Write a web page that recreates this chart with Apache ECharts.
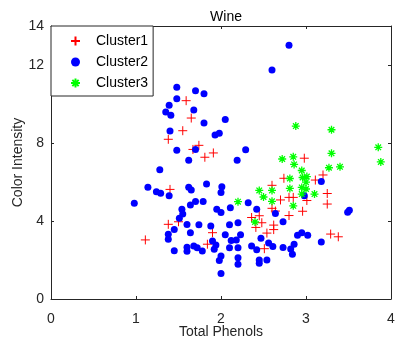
<!DOCTYPE html>
<html>
<head>
<meta charset="utf-8">
<script src="https://cdn.jsdelivr.net/npm/echarts@6/dist/echarts.min.js"></script>
<style>
  html, body { margin: 0; padding: 0; background: #fff; }
  #chart { width: 396px; height: 345px; }
</style>
</head>
<body>
<div id="chart"></div>
<script>
// Wine: total phenols (x) vs colour intensity (y), grouped by cluster
const chartTitle = 'Wine';
const xName = 'Total Phenols';
const yName = 'Color Intensity';
const clusterNames = ['Cluster1', 'Cluster2', 'Cluster3'];

const cluster1Points = [
  [1.59, 10.17], [1.65, 9.28], [1.55, 8.63], [1.38, 8.19], [1.74, 7.88],
  [1.67, 7.67], [1.81, 7.27], [1.91, 7.49], [2.74, 6.19], [1.40, 5.62],
  [1.38, 3.83], [1.50, 3.96], [1.11, 3.03], [1.90, 3.40], [1.84, 2.81],
  [2.60, 5.83], [2.70, 5.08], [2.60, 4.65], [2.64, 4.51], [2.36, 4.18],
  [2.45, 4.27], [2.48, 3.91], [2.41, 3.67], [2.62, 3.79], [2.62, 3.56],
  [2.54, 3.38], [2.51, 2.58], [2.98, 7.22], [3.20, 6.36], [3.11, 6.10],
  [3.25, 5.41], [3.25, 4.87], [2.80, 5.21], [2.85, 5.21], [3.01, 5.05],
  [2.96, 4.50], [2.80, 4.28], [3.29, 3.33], [3.38, 3.19]
];

const cluster2Points = [
  [2.80, 13.01], [2.60, 11.74], [1.48, 10.86], [1.70, 10.68], [1.80, 10.53],
  [1.48, 10.27], [1.39, 9.93], [1.68, 9.69], [1.35, 9.59], [1.41, 9.42],
  [2.05, 9.21], [1.80, 9.03], [1.40, 8.62], [1.93, 8.41], [1.98, 8.50],
  [1.48, 7.63], [1.70, 7.67], [2.29, 7.66], [1.62, 7.11], [2.19, 7.11],
  [1.28, 6.63], [1.14, 5.73], [1.24, 5.50], [1.29, 5.42], [1.39, 5.30],
  [1.62, 5.73], [1.65, 5.59], [1.83, 5.90], [2.01, 5.76], [2.00, 5.46],
  [0.98, 4.91], [1.54, 4.60], [1.55, 4.36], [1.51, 4.14], [1.64, 4.82],
  [1.70, 5.00], [1.79, 5.00], [1.95, 4.60], [2.00, 4.43], [2.11, 4.68],
  [2.32, 4.94], [2.42, 4.60], [2.64, 4.39], [1.60, 3.82], [1.74, 3.81],
  [1.88, 3.74], [2.10, 3.81], [2.20, 3.91], [1.45, 3.57], [1.38, 3.32],
  [1.38, 3.06], [1.64, 3.40], [1.90, 2.97], [1.94, 2.77], [1.92, 2.55],
  [2.05, 3.30], [2.12, 3.00], [2.18, 3.03], [2.23, 3.30], [2.47, 3.11],
  [1.45, 2.48], [1.60, 2.45], [1.60, 2.65], [1.68, 2.72], [1.72, 2.63],
  [1.78, 2.46], [2.10, 2.63], [2.20, 2.63], [2.36, 2.72], [2.42, 2.53],
  [2.56, 2.87], [2.61, 2.69], [2.73, 2.64], [2.00, 2.21], [1.98, 1.97],
  [2.20, 2.12], [2.45, 2.00], [2.54, 2.00], [2.45, 1.83], [2.20, 1.78],
  [2.00, 1.31], [3.18, 6.02], [2.98, 5.29], [3.51, 4.55], [3.49, 4.45],
  [2.73, 3.96], [2.90, 3.27], [2.95, 3.40], [3.02, 3.27], [3.18, 2.92],
  [2.86, 2.81], [2.82, 2.56], [2.84, 2.29]
];

const cluster3Points = [
  [2.88, 8.87], [3.30, 8.68], [3.85, 7.78], [3.30, 7.47], [2.72, 7.18],
  [2.85, 7.29], [2.86, 6.90], [3.27, 6.73], [3.40, 6.78], [3.88, 7.03],
  [2.95, 6.59], [2.81, 6.18], [2.96, 6.23], [3.01, 6.28], [3.00, 5.99],
  [2.81, 5.67], [2.95, 5.72], [3.00, 5.64], [3.10, 5.38], [2.95, 5.38],
  [2.85, 4.78], [2.45, 5.57], [2.60, 5.57], [2.50, 5.23], [2.60, 5.01],
  [2.20, 4.99], [2.40, 3.95]
];

const xTicks = { min: 0, max: 4, interval: 1 };
const yTicks = { min: 0, max: 14, interval: 4 };

// marker glyphs
const plusPath = 'path://M0,5L10,5M5,0L5,10';
const starPath = 'path://M0,5L10,5M5,0L5,10M1.5,1.5L8.5,8.5M8.5,1.5L1.5,8.5';

const ink = '#262626';
const font = 'Liberation Sans, Arial, Helvetica, sans-serif';

const chart = echarts.init(document.getElementById('chart'), null, { renderer: 'canvas' });

const baseAxis = {
  type: 'value',
  axisLine: { show: true, onZero: false, lineStyle: { color: ink, width: 1 } },
  axisTick: { show: true, inside: true, length: 3, lineStyle: { color: ink } },
  splitLine: { show: false },
  axisLabel: { color: ink, fontSize: 14, fontFamily: font }
};

chart.setOption({
  animation: false,
  backgroundColor: '#fff',
  title: {
    text: chartTitle,
    left: 221,
    top: 5,
    textAlign: 'center',
    textStyle: { fontSize: 14, fontWeight: 'normal', color: '#000', fontFamily: font }
  },
  grid: { left: 51, right: 5, top: 26, bottom: 46, containLabel: false, outerBoundsMode: 'none' },
  legend: {
    orient: 'vertical',
    left: 51,
    top: 26,
    padding: [8, 5, 6, 19],
    itemWidth: 9,
    itemHeight: 9,
    itemGap: 7,
    backgroundColor: '#fff',
    borderColor: ink,
    borderWidth: 1,
    borderRadius: 0,
    textStyle: { fontSize: 14, color: '#000', fontFamily: font, padding: [0, 0, 0, 11] },
    data: clusterNames
  },
  xAxis: [
    Object.assign({}, baseAxis, {
      position: 'bottom',
      min: xTicks.min, max: xTicks.max, interval: xTicks.interval,
      name: xName,
      nameLocation: 'middle',
      nameGap: 26,
      nameMoveOverlap: false,
      nameTextStyle: { fontSize: 14, color: ink, fontFamily: font },
      axisLabel: Object.assign({}, baseAxis.axisLabel, { margin: 13 })
    }),
    Object.assign({}, baseAxis, {
      position: 'top',
      min: xTicks.min, max: xTicks.max, interval: xTicks.interval,
      axisLabel: { show: false }
    })
  ],
  yAxis: [
    Object.assign({}, baseAxis, {
      position: 'left',
      min: yTicks.min, max: yTicks.max, interval: yTicks.interval,
      name: yName,
      nameLocation: 'middle',
      nameGap: 26,
      nameMoveOverlap: false,
      nameTextStyle: { fontSize: 14, color: ink, fontFamily: font },
      axisLabel: Object.assign({}, baseAxis.axisLabel, { margin: 7 })
    }),
    Object.assign({}, baseAxis, {
      position: 'right',
      min: yTicks.min, max: yTicks.max, interval: yTicks.interval,
      axisLabel: { show: false }
    })
  ],
  series: [
    {
      name: clusterNames[0],
      type: 'scatter',
      data: cluster1Points,
      symbol: plusPath,
      symbolSize: 9,
      itemStyle: { color: 'rgba(0,0,0,0)', borderColor: '#ff0000', borderWidth: 1, opacity: 1 },
      emphasis: { disabled: true }
    },
    {
      name: clusterNames[1],
      type: 'scatter',
      data: cluster2Points,
      symbol: 'circle',
      symbolSize: 7,
      itemStyle: { color: '#0000ff', opacity: 1 },
      emphasis: { disabled: true }
    },
    {
      name: clusterNames[2],
      type: 'scatter',
      data: cluster3Points,
      symbol: starPath,
      symbolSize: 8,
      itemStyle: { color: 'rgba(0,0,0,0)', borderColor: '#00ff00', borderWidth: 1.3, opacity: 1 },
      emphasis: { disabled: true }
    }
  ]
});
</script>
</body>
</html>
